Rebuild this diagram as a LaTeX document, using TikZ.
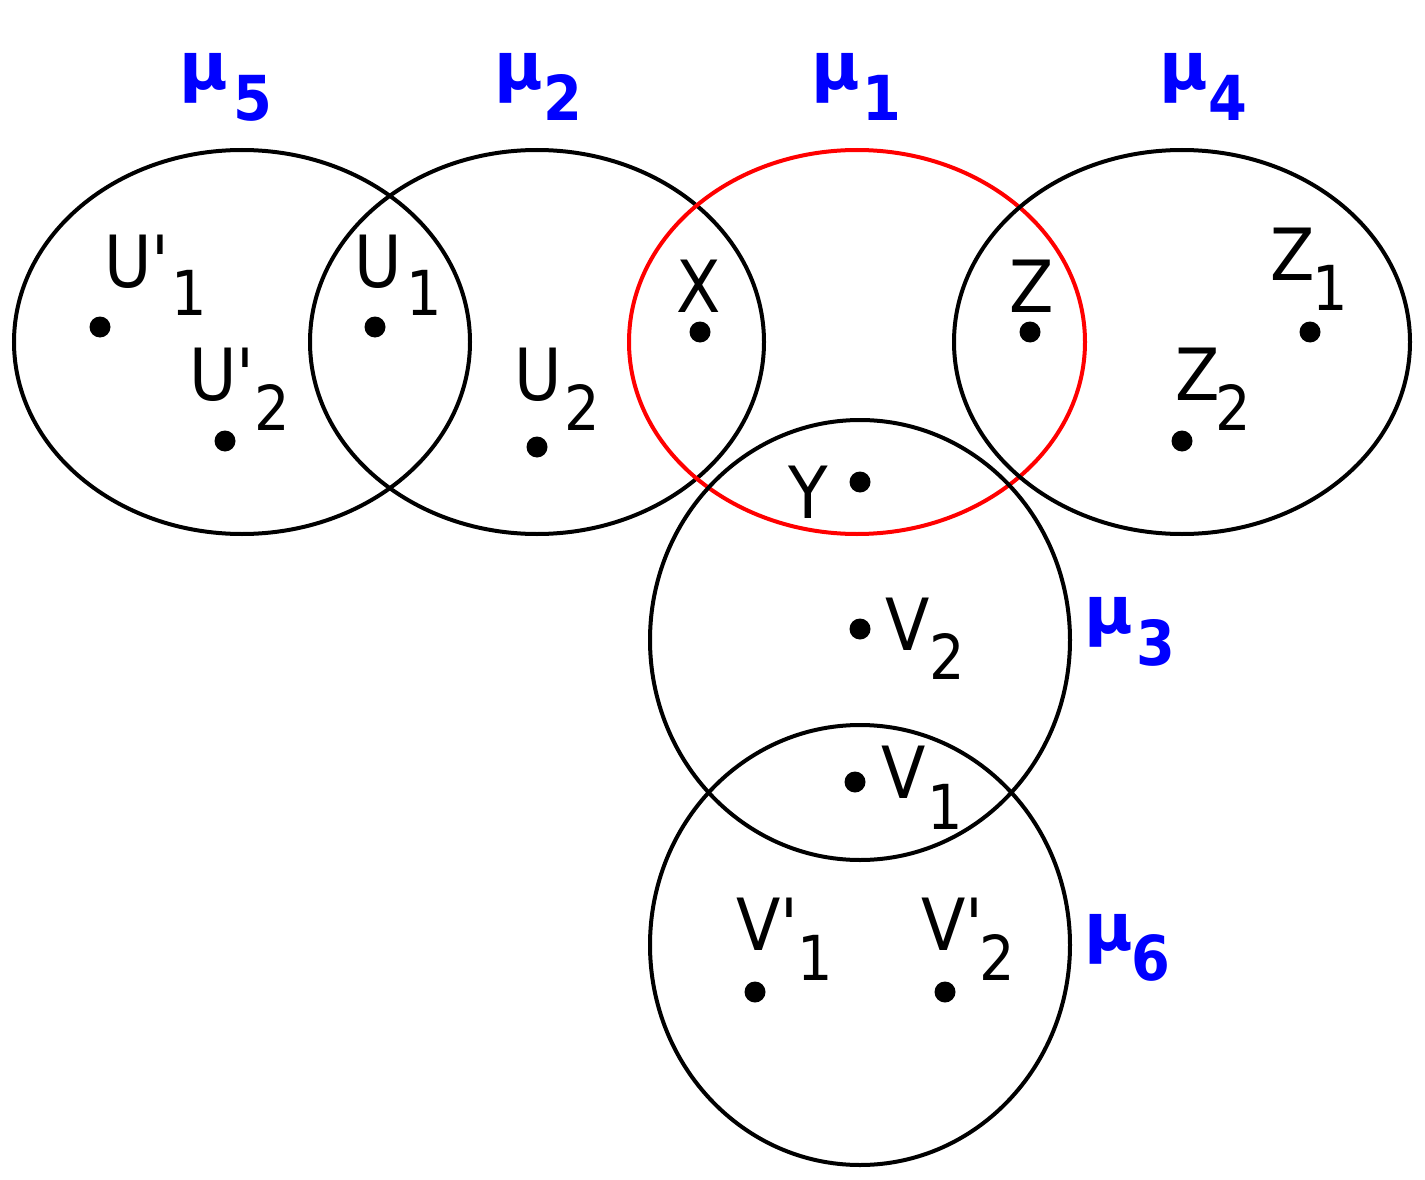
\documentclass[tikz,border=0pt]{standalone}
\usepackage{fontspec}
\setmainfont{DejaVu Sans}
\newfontfamily\labfont{DejaVu Sans}[FakeStretch=0.9]
\newfontfamily\mufont{DejaVu Sans Bold}
\newfontfamily\musubfont{DejaVu Sans Bold}[FakeStretch=0.9]
\tikzset{
  setline/.style={line width=4pt, black},
  redline/.style={line width=4pt, red},
  dotpt/.style={circle, fill=black, inner sep=0pt, minimum size=21pt},
  mainlab/.style={anchor=base west, inner sep=0pt, font=\labfont\fontsize{72}{72}\selectfont},
  sublab/.style={anchor=base west, inner sep=0pt, font=\labfont\fontsize{62}{62}\selectfont},
  mulab/.style={anchor=base west, inner sep=0pt, text=blue, font=\mufont\fontsize{66}{66}\selectfont},
  musub/.style={anchor=base west, inner sep=0pt, text=blue, font=\musubfont\fontsize{62}{62}\selectfont},
}
\begin{document}
\begin{tikzpicture}[x=1pt,y=-1pt]
\useasboundingbox (0,0) rectangle (1425,1180);
% sets
\draw[setline] (242,342) ellipse [x radius=228pt, y radius=192pt];
\draw[setline] (537,342) ellipse [x radius=227pt, y radius=192pt];
\draw[redline] (857,342) ellipse [x radius=228pt, y radius=192pt];
\draw[setline] (1182,342) ellipse [x radius=228pt, y radius=192pt];
\draw[setline] (860,640) ellipse [x radius=210pt, y radius=220pt];
\draw[setline] (860,945) ellipse [x radius=210pt, y radius=220pt];
% points
\node[dotpt] (pU1p) at (100,327) {};
\node[dotpt] (pU2p) at (225,441) {};
\node[dotpt] (pU1) at (375,327) {};
\node[dotpt] (pU2) at (537,447) {};
\node[dotpt] (pX) at (700,332) {};
\node[dotpt] (pZ) at (1030,332) {};
\node[dotpt] (pZ1) at (1310,332) {};
\node[dotpt] (pZ2) at (1182,441) {};
\node[dotpt] (pY) at (860,482) {};
\node[dotpt] (pV2) at (860,629) {};
\node[dotpt] (pV1) at (855,782) {};
\node[dotpt] (pV1p) at (755,992) {};
\node[dotpt] (pV2p) at (945,992) {};
% labels
\node[mainlab] (lU1p) at (104,287) {U'};
\node[sublab] (sU1p) at (171,315) {1};
\node[mainlab] (lU2p) at (189,400) {U'};
\node[sublab] (sU2p) at (254,430) {2};
\node[mainlab] (lU1) at (354,287) {U};
\node[sublab] (sU1) at (406,315) {1};
\node[mainlab] (lU2) at (514,400) {U};
\node[sublab] (sU2) at (564,430) {2};
\node[mainlab] (lX) at (676,312) {X};
\node[mainlab] (lZ) at (1009,312) {Z};
\node[mainlab] (lZ1) at (1270,280) {Z};
\node[sublab] (sZ1) at (1312,310) {1};
\node[mainlab] (lZ2) at (1175,400) {Z};
\node[sublab] (sZ2) at (1215,430) {2};
\node[mainlab] (lY) at (788,518) {Y};
\node[mainlab] (lV2) at (885,650) {V};
\node[sublab] (sV2) at (929,679) {2};
\node[mainlab] (lV1) at (881,798) {V};
\node[sublab] (sV1) at (927,829) {1};
\node[mainlab] (lV1p) at (736,950) {V'};
\node[sublab] (sV1p) at (797,980) {1};
\node[mainlab] (lV2p) at (921,950) {V'};
\node[sublab] (sV2p) at (979,980) {2};
% mu labels
\node[mulab] (m5) at (179,90) {μ};
\node[musub] (m5s) at (233,121) {5};
\node[mulab] (m2) at (494,90) {μ};
\node[musub] (m2s) at (543.5,121) {2};
\node[mulab] (m1) at (811.5,90) {μ};
\node[musub] (m1s) at (862,121) {1};
\node[mulab] (m4) at (1159,90) {μ};
\node[musub] (m4s) at (1208.5,121) {4};
\node[mulab] (m3) at (1084,633) {μ};
\node[musub] (m3s) at (1136,665) {3};
\node[mulab] (m6) at (1084,950) {μ};
\node[musub] (m6s) at (1131,980) {6};
\end{tikzpicture}
\end{document}
